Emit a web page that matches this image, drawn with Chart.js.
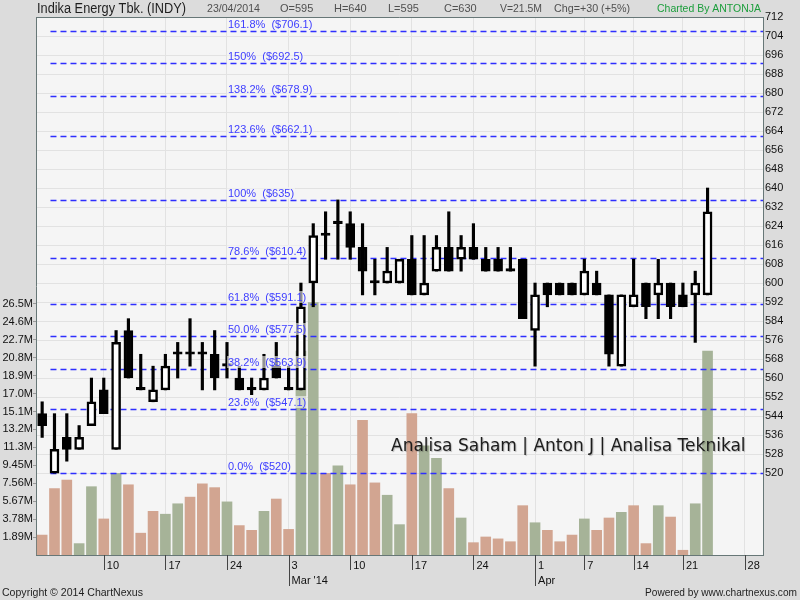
<!DOCTYPE html>
<html>
<head>
<meta charset="utf-8">
<title>Indika Energy Tbk. (INDY)</title>
<script src="https://cdn.jsdelivr.net/npm/chart.js@4.4.1/dist/chart.umd.min.js"></script>
<style>
  html, body { margin: 0; padding: 0; background: #dcdcdc; }
  #wrap { width: 800px; height: 600px; }
</style>
</head>
<body>
<div id="wrap"><canvas id="chart" width="800" height="600"></canvas></div>
<script>
// trading days (last four are empty slots to the right edge)
const days = [
    '2014-02-03','2014-02-04','2014-02-05','2014-02-06','2014-02-07',
    '2014-02-10','2014-02-11','2014-02-12','2014-02-13','2014-02-14',
    '2014-02-17','2014-02-18','2014-02-19','2014-02-20','2014-02-21',
    '2014-02-24','2014-02-25','2014-02-26','2014-02-27','2014-02-28',
    '2014-03-03','2014-03-04','2014-03-05','2014-03-06','2014-03-07',
    '2014-03-10','2014-03-11','2014-03-12','2014-03-13','2014-03-14',
    '2014-03-17','2014-03-18','2014-03-19','2014-03-20','2014-03-21',
    '2014-03-24','2014-03-25','2014-03-26','2014-03-27','2014-03-28',
    '2014-04-01','2014-04-02','2014-04-03','2014-04-04',
    '2014-04-07','2014-04-08','2014-04-10','2014-04-11',
    '2014-04-14','2014-04-15','2014-04-16','2014-04-17',
    '2014-04-21','2014-04-22','2014-04-23',
    '2014-04-24','2014-04-25','2014-04-28','2014-04-29'
];

const opens  = [545,520,535,530,540, 555,530,580,555,550, 555,570,570,570,570, 565,560,555,555,565,
                555,555,600,620,625, 625,615,600,600,600, 610,595,605,615,610, 615,610,610,605,610,
                580,600,600,600, 595,600,595,565, 590,600,595,600, 595,595,595];
const highs  = [550,545,545,540,560, 560,580,585,570,565, 570,575,585,575,580, 575,565,560,570,575,
                565,600,625,630,635, 630,625,610,615,610, 620,620,620,630,620, 625,615,615,615,610,
                600,600,600,600, 610,605,595,595, 610,600,610,600, 600,605,640];
const lows   = [535,520,525,530,540, 545,530,560,555,550, 555,560,565,555,555, 560,555,553,555,560,
                555,555,590,610,610, 610,595,595,600,600, 595,595,605,605,605, 610,605,605,605,585,
                565,590,595,595, 595,595,565,565, 590,585,585,585, 590,575,595];
const closes = [540,530,530,535,550, 545,575,560,555,555, 565,570,570,570,560, 565,555,555,560,560,
                555,590,620,620,625, 615,605,600,605,610, 595,600,615,605,615, 610,605,605,605,585,
                595,595,595,595, 605,595,570,595, 595,590,600,590, 590,600,630];
// volume in millions of shares
const volumes = [2.1,7.0,7.9,1.2,7.2, 3.8,8.6,7.4,2.3,4.6, 4.3,5.4,6.1,7.5,7.1, 5.6,3.1,2.6,4.6,5.9,
                 2.7,21.5,26.6,8.6,9.4, 7.4,14.2,7.6,6.3,3.2, 14.9,11.5,10.2,7.0,3.9, 1.3,1.9,1.7,1.4,5.2,
                 3.4,2.6,1.4,2.1, 3.8,2.6,3.9,4.5, 5.2,1.2,5.2,4.0, 0.5,5.4,21.5];

const tickDates = ['2014-02-10','2014-02-17','2014-02-24','2014-03-03','2014-03-10','2014-03-17',
                   '2014-03-24','2014-04-01','2014-04-07','2014-04-14','2014-04-21','2014-04-28'];
const tickTexts = ['10','17','24',['3',"Mar '14"],'10','17','24',['1','Apr'],'7','14','21','28'];

const priceTicks = [520,528,536,544,552,560,568,576,584,592,600,608,616,624,632,640,
                    648,656,664,672,680,688,696,704,712];
const volTicks = [1.89,3.78,5.67,7.56,9.45,11.34,13.23,15.12,17.01,18.9,20.79,22.68,24.57,26.46];
const volTickLabels = ['1.89M','3.78M','5.67M','7.56M','9.45M','11.3M','13.2M','15.1M',
                       '17.0M','18.9M','20.8M','22.7M','24.6M','26.5M'];

// fibonacci retracement levels
const fibPct = ['0.0%','23.6%','38.2%','50.0%','61.8%','78.6%','100%','123.6%','138.2%','150%','161.8%'];
const fibPrice = [520,547.1,563.9,577.5,591.1,610.4,635,662.1,678.9,692.5,706.1];

const UP_VOL = '#a6b398';
const DOWN_VOL = '#d2a591';
const FONT = '"Liberation Sans", Arial, sans-serif';

const volColors = volumes.map((v, i) => {
    const prev = i === 0 ? opens[0] : closes[i - 1];
    return closes[i] > prev ? UP_VOL : DOWN_VOL;
});
const bodyColors = opens.map((o, i) => closes[i] > o ? '#ffffff' : '#000000');

const chartDecor = {
    id: 'chartDecor',
    beforeDraw(chart) {
        const { ctx, chartArea: a } = chart;
        ctx.save();
        ctx.fillStyle = '#dcdcdc';
        ctx.fillRect(0, 0, chart.width, chart.height);
        ctx.fillStyle = '#f5f5f5';
        ctx.fillRect(a.left, a.top, a.right - a.left, a.bottom - a.top);
        ctx.restore();
    },
    afterDatasetDraw(chart, args) {
        // fib lines sit above the volume bars but under the candles
        if (args.index !== 0) return;
        const { ctx, chartArea: a } = chart;
        const y = chart.scales.y;
        const x0 = chart.scales.x.getPixelForValue(1) - 4;
        ctx.save();
        ctx.strokeStyle = '#2f2fff';
        ctx.lineWidth = 1.6;
        ctx.setLineDash([6, 4]);
        fibPrice.forEach(p => {
            const py = Math.round(y.getPixelForValue(p)) + 0.5;
            ctx.beginPath();
            ctx.moveTo(x0, py);
            ctx.lineTo(a.right, py);
            ctx.stroke();
        });
        ctx.restore();
    },
    afterDatasetsDraw(chart) {
        const { ctx, chartArea: a } = chart;
        const y = chart.scales.y;
        ctx.save();
        ctx.font = '11px ' + FONT;
        ctx.textBaseline = 'bottom';
        fibPct.forEach((pct, i) => {
            const txt = pct + '  ($' + fibPrice[i] + ')';
            const py = Math.round(y.getPixelForValue(fibPrice[i]));
            const w = ctx.measureText(txt).width;
            ctx.fillStyle = 'rgba(245,245,245,0.6)';
            ctx.fillRect(a.left + 191, py - 13, w + 2, 12);
            ctx.fillStyle = '#3d3dff';
            ctx.fillText(txt, a.left + 192, py - 1);
        });
        // watermark
        ctx.font = '17px "DejaVu Sans", Verdana, sans-serif';
        ctx.textBaseline = 'alphabetic';
        ctx.shadowColor = 'rgba(0,0,0,0.25)';
        ctx.shadowBlur = 1;
        ctx.shadowOffsetX = 1;
        ctx.shadowOffsetY = 1;
        ctx.fillStyle = '#1c1c1c';
        ctx.fillText('Analisa Saham | Anton J | Analisa Teknikal', 391, 451);
        ctx.restore();
    },
    afterDraw(chart) {
        const { ctx, chartArea: a } = chart;
        const x = chart.scales.x;
        ctx.save();
        // top edge of the frame
        ctx.strokeStyle = '#677777';
        ctx.lineWidth = 1;
        ctx.beginPath();
        ctx.moveTo(a.left, a.top + 0.5);
        ctx.lineTo(a.right, a.top + 0.5);
        ctx.stroke();
        // date tick marks under the axis
        ctx.strokeStyle = '#444';
        x.ticks.forEach((t, i) => {
            const k = tickDates.indexOf(days[t.value]);
            if (k < 0) return;
            const px = Math.round(x.getPixelForTick(i)) + 0.5;
            ctx.beginPath();
            ctx.moveTo(px, a.bottom);
            ctx.lineTo(px, Array.isArray(tickTexts[k]) ? a.bottom + 31 : a.bottom + 15);
            ctx.stroke();
        });
        // header
        const n = closes.length - 1;
        const chg = closes[n] - closes[n - 1];
        const chgPct = Math.round(chg / closes[n - 1] * 100);
        ctx.textBaseline = 'middle';
        ctx.fillStyle = '#1e1e1e';
        ctx.font = '14px ' + FONT;
        ctx.fillText('Indika Energy Tbk. (INDY)', 37, 9, 149);
        ctx.font = '11px ' + FONT;
        ctx.fillStyle = '#505050';
        const d = days[n].split('-');
        ctx.fillText(d[2] + '/' + d[1] + '/' + d[0], 207, 9, 53);
        ctx.fillText('O=' + opens[n], 280, 9);
        ctx.fillText('H=' + highs[n], 334, 9);
        ctx.fillText('L=' + lows[n], 388, 9);
        ctx.fillText('C=' + closes[n], 444, 9);
        ctx.fillText('V=' + volumes[n] + 'M', 500, 9, 42);
        ctx.fillText('Chg=' + (chg >= 0 ? '+' : '') + chg + ' (' + (chg >= 0 ? '+' : '') + chgPct + '%)', 554, 9, 76);
        ctx.fillStyle = '#1c9e3c';
        ctx.fillText('Charted By ANTONJA', 657, 9, 104);
        // footer
        ctx.fillStyle = '#1e1e1e';
        ctx.fillText('Copyright \u00a9 2014 ChartNexus', 2, 593, 141);
        ctx.textAlign = 'right';
        ctx.fillText('Powered by www.chartnexus.com', 797, 593, 152);
        ctx.restore();
    }
};

const ctx = document.getElementById('chart').getContext('2d');
const chart = new Chart(ctx, {
    type: 'bar',
    data: {
        labels: days,
        datasets: [
            {
                label: 'Volume',
                data: volumes,
                yAxisID: 'yVol',
                backgroundColor: volColors,
                barThickness: 10,
                grouped: false,
                order: 3
            },
            {
                label: 'Range',
                data: lows.map((l, i) => [l, highs[i]]),
                yAxisID: 'y',
                backgroundColor: '#000000',
                barThickness: 2.5,
                grouped: false,
                order: 2
            },
            {
                label: 'Body',
                data: opens.map((o, i) => [o, closes[i]]),
                yAxisID: 'y',
                backgroundColor: bodyColors,
                borderColor: '#000000',
                borderWidth: 2.5,
                borderSkipped: false,
                barThickness: 9,
                minBarLength: 2.5,
                grouped: false,
                order: 1
            }
        ]
    },
    options: {
        responsive: false,
        animation: false,
        devicePixelRatio: 1,
        layout: { padding: { top: 17, left: 0, right: 0, bottom: 0 } },
        plugins: {
            legend: { display: false },
            tooltip: { enabled: false }
        },
        scales: {
            x: {
                type: 'category',
                offset: true,
                border: { color: '#677777' },
                grid: {
                    offset: false,
                    drawTicks: false,
                    color: c => (c.tick && c.tick.label && c.tick.label.length) ? '#e2e2e2' : 'rgba(0,0,0,0)'
                },
                ticks: {
                    autoSkip: false,
                    maxRotation: 0,
                    minRotation: 0,
                    align: 'start',
                    labelOffset: 3,
                    padding: 3,
                    color: '#111',
                    font: { family: FONT, size: 11, lineHeight: 1.4 },
                    callback: function(value) {
                        const k = tickDates.indexOf(days[value]);
                        return k < 0 ? '' : tickTexts[k];
                    }
                },
                afterFit: s => { s.height = 45; }
            },
            yVol: {
                position: 'left',
                min: 0,
                max: 56.7,
                border: { color: '#677777' },
                grid: { drawOnChartArea: false, drawTicks: true, tickLength: 3, tickColor: '#999' },
                afterBuildTicks: s => { s.ticks = volTicks.map(v => ({ value: v })); },
                ticks: {
                    padding: 0,
                    color: '#111',
                    font: { family: FONT, size: 11 },
                    callback: (v, i) => volTickLabels[i]
                },
                afterFit: s => { s.width = 36; }
            },
            y: {
                position: 'right',
                min: 485.5,
                max: 712,
                border: { color: '#677777' },
                grid: { color: '#e2e2e2', drawTicks: false },
                afterBuildTicks: s => { s.ticks = priceTicks.map(v => ({ value: v })); },
                ticks: {
                    padding: 2,
                    color: '#111',
                    font: { family: FONT, size: 11 },
                    callback: v => String(v)
                },
                afterFit: s => { s.width = 37; }
            }
        }
    },
    plugins: [chartDecor]
});
</script>
</body>
</html>
